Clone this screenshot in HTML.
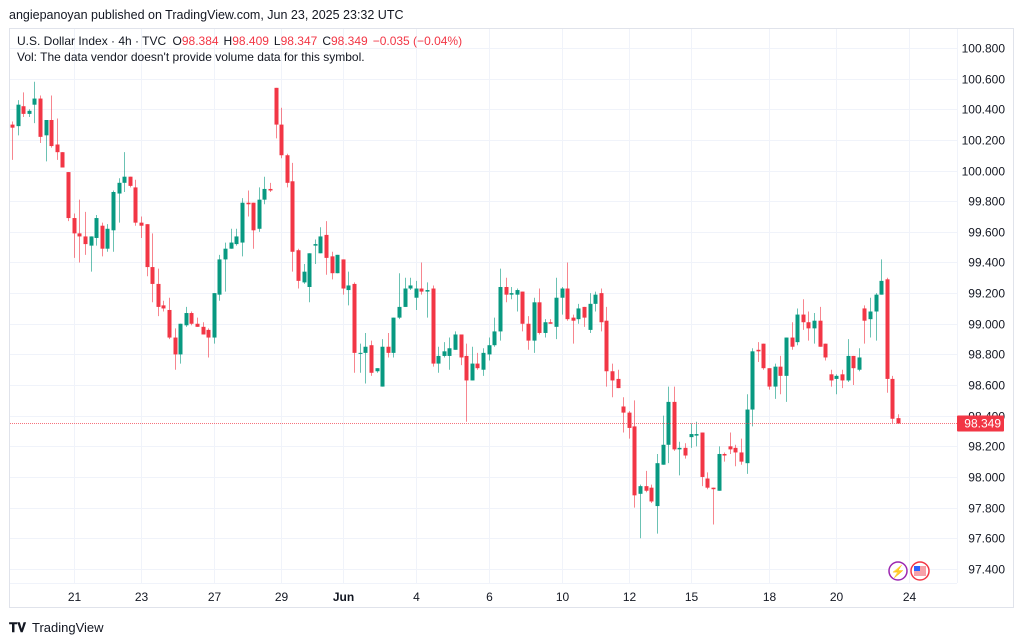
<!DOCTYPE html>
<html><head><meta charset="utf-8">
<style>
html,body{margin:0;padding:0;background:#fff;width:1024px;height:642px;overflow:hidden;font-family:"Liberation Sans",sans-serif;}
svg text{font-family:"Liberation Sans",sans-serif;}
</style></head>
<body>
<svg id="chart" width="1024" height="642" viewBox="0 0 1024 642" xmlns="http://www.w3.org/2000/svg">
<rect x="0" y="0" width="1024" height="642" fill="#ffffff"/>
<text x="9" y="19" font-size="12.5" fill="#131722">angiepanoyan published on TradingView.com, Jun 23, 2025 23:32 UTC</text>
<rect x="9.5" y="28.5" width="1004" height="579" fill="none" stroke="#e0e3eb"/>
<g id="grid"></g>
<g id="candles"></g>
<g id="yaxis"></g>
<g id="xaxis"></g>
<g>
<text x="17" y="45" font-size="12" fill="#131722">U.S. Dollar Index · 4h · TVC <tspan dx="3">O</tspan><tspan fill="#f23645">98.384</tspan><tspan dx="5">H</tspan><tspan fill="#f23645">98.409</tspan><tspan dx="5">L</tspan><tspan fill="#f23645">98.347</tspan><tspan dx="5">C</tspan><tspan fill="#f23645">98.349</tspan><tspan dx="5" fill="#f23645">−0.035 (−0.04%)</tspan></text>
<text x="17" y="61" font-size="12" fill="#131722">Vol: The data vendor doesn't provide volume data for this symbol.</text>
</g>
<g>
<circle cx="898" cy="571" r="9" fill="#fff" stroke="#9c27b0" stroke-width="1.5"/>
<text x="898" y="575.5" font-size="12" text-anchor="middle" fill="#9c27b0">⚡</text>
<circle cx="920" cy="571" r="9" fill="#fff" stroke="#f23645" stroke-width="1.5"/>
<rect x="914" y="566" width="12" height="10" fill="#f7a0a8"/>
<rect x="914" y="566" width="6" height="5" fill="#2962ff"/>
</g>
<g>
<text x="9" y="632" font-size="13" font-weight="bold" fill="#131722">𝐓𝐕</text>
<text x="32" y="632" font-size="13" fill="#131722">TradingView</text>
</g>
</svg>
<script>
const opens=[100.30,100.29,100.42,100.37,100.43,100.47,100.23,100.33,100.17,100.12,99.99,99.69,99.59,99.57,99.51,99.56,99.64,99.49,99.61,99.85,99.92,99.96,99.89,99.66,99.65,99.37,99.26,99.12,99.09,98.91,98.80,98.99,99.07,99.00,98.98,98.96,98.91,99.19,99.42,99.49,99.52,99.53,99.79,99.79,99.62,99.81,99.88,100.54,100.30,100.10,99.93,99.48,99.27,99.24,99.51,99.46,99.58,99.44,99.33,99.42,99.22,99.26,98.81,98.81,98.86,98.69,98.59,98.85,98.81,99.04,99.11,99.23,99.17,99.23,99.21,99.23,98.74,98.79,98.79,98.83,98.93,98.79,98.63,98.74,98.70,98.80,98.86,98.95,99.24,99.19,99.19,99.21,99.00,98.89,99.14,98.94,99.01,98.98,99.17,99.23,99.04,99.03,99.11,98.96,99.13,99.20,99.02,98.69,98.64,98.46,98.42,98.33,97.89,97.94,97.93,97.81,98.08,98.21,98.49,98.18,98.19,98.26,98.27,98.29,97.99,97.93,97.91,98.15,98.20,98.19,98.16,98.09,98.44,98.83,98.87,98.71,98.59,98.72,98.66,98.91,98.88,99.06,99.01,98.97,99.02,98.87,98.67,98.64,98.67,98.63,98.79,98.70,99.10,99.03,99.08,99.19,99.29,98.64,98.384];
const highs=[100.32,100.46,100.51,100.40,100.58,100.49,100.33,100.49,100.34,100.12,99.99,99.72,99.81,99.73,99.57,99.71,99.66,99.65,99.87,99.95,100.12,99.96,99.94,99.70,99.65,99.59,99.36,99.15,99.17,98.97,99.00,99.11,99.08,99.04,99.01,98.97,99.20,99.45,99.53,99.62,99.62,99.82,99.87,99.79,99.89,99.96,99.92,100.54,100.41,100.11,100.05,99.49,99.39,99.46,99.55,99.63,99.67,99.47,99.45,99.42,99.34,99.27,98.87,98.94,98.89,98.71,98.90,98.94,99.04,99.33,99.30,99.30,99.28,99.40,99.27,99.25,98.85,98.88,98.91,98.95,98.93,98.87,98.85,98.81,98.84,98.91,99.04,99.36,99.30,99.24,99.23,99.21,99.05,99.17,99.23,99.03,99.03,99.30,99.24,99.40,99.06,99.13,99.11,99.20,99.21,99.23,99.11,98.74,98.70,98.52,98.43,98.50,97.95,98.04,97.95,98.15,98.40,98.59,98.59,98.23,98.22,98.35,98.36,98.29,98.03,97.93,98.20,98.16,98.29,98.21,98.25,98.54,98.84,98.88,98.87,98.71,98.74,98.79,98.91,99.01,99.10,99.16,99.08,99.07,99.11,98.87,98.70,98.67,98.70,98.90,98.79,98.84,99.12,99.17,99.20,99.42,99.30,98.66,98.409];
const lows=[100.07,100.23,100.35,100.35,100.31,100.18,100.06,100.15,100.07,100.02,99.67,99.43,99.40,99.45,99.34,99.51,99.44,99.47,99.47,99.66,99.86,99.89,99.64,99.56,99.31,99.14,99.05,99.08,98.90,98.70,98.74,98.98,98.99,98.98,98.93,98.78,98.87,99.15,99.21,99.49,99.51,99.44,99.70,99.49,99.60,99.78,99.86,100.21,100.08,99.89,99.34,99.23,99.26,99.14,99.39,99.46,99.32,99.29,99.33,99.19,99.12,98.68,98.68,98.61,98.66,98.68,98.59,98.78,98.78,99.03,99.11,99.22,99.09,99.19,99.04,98.72,98.68,98.78,98.70,98.83,98.73,98.36,98.63,98.70,98.66,98.76,98.85,98.89,99.14,99.16,99.08,98.95,98.83,98.81,98.93,98.91,99.00,98.90,99.06,99.02,98.87,99.00,98.98,98.94,99.08,98.95,98.59,98.52,98.58,98.29,98.25,97.80,97.60,97.90,97.83,97.63,98.08,98.09,98.17,98.01,98.12,98.19,98.20,97.94,97.92,97.69,97.91,98.10,98.15,98.07,98.08,98.02,98.33,98.75,98.70,98.57,98.51,98.54,98.49,98.83,98.86,98.96,98.89,98.87,98.85,98.76,98.59,98.54,98.58,98.62,98.60,98.69,98.87,98.91,98.89,99.19,98.55,98.35,98.347];
const closes=[100.28,100.43,100.37,100.39,100.47,100.22,100.33,100.16,100.12,100.02,99.69,99.59,99.57,99.52,99.57,99.69,99.49,99.62,99.86,99.92,99.96,99.90,99.66,99.64,99.37,99.26,99.11,99.10,98.91,98.80,99.00,99.07,99.00,98.98,98.93,98.91,99.20,99.42,99.49,99.53,99.57,99.79,99.78,99.61,99.81,99.88,99.87,100.30,100.10,99.92,99.47,99.28,99.34,99.46,99.52,99.57,99.43,99.33,99.45,99.23,99.25,98.81,98.81,98.85,98.68,98.71,98.85,98.81,99.04,99.11,99.23,99.25,99.23,99.21,99.22,98.74,98.79,98.82,98.84,98.93,98.78,98.63,98.74,98.71,98.81,98.86,98.95,99.24,99.19,99.20,99.22,99.00,98.89,99.14,98.94,99.01,99.00,99.17,99.23,99.03,99.02,99.10,99.04,99.13,99.19,99.01,98.69,98.63,98.58,98.42,98.32,97.88,97.94,97.91,97.84,98.09,98.21,98.49,98.18,98.19,98.14,98.28,98.28,98.00,97.93,97.92,98.15,98.14,98.18,98.16,98.10,98.44,98.82,98.82,98.71,98.59,98.72,98.66,98.91,98.85,99.06,99.01,98.97,99.02,98.85,98.78,98.63,98.66,98.63,98.79,98.71,98.78,99.02,99.08,99.19,99.28,98.64,98.38,98.349];
const priceTicks=[100.8,100.6,100.4,100.2,100.0,99.8,99.6,99.4,99.2,99.0,98.8,98.6,98.4,98.2,98.0,97.8,97.6,97.4];
const dateLabels=["21","23","27","29","Jun","4","6","10","12","15","18","20","24"];
const dateIndex=[11,23,36,48,59,72,85,98,110,121,135,147,160];
const lastPrice=98.349;

const NS="http://www.w3.org/2000/svg";
function yScale(p){return 48+(100.8-p)*153.2;}
function xScale(i){return 12+i*5.608;}
function mk(tag,attrs,parent){const e=document.createElementNS(NS,tag);for(const k in attrs)e.setAttribute(k,attrs[k]);parent.appendChild(e);return e;}
const grid=document.getElementById('grid');
const cg=document.getElementById('candles');
const ya=document.getElementById('yaxis');
const xa=document.getElementById('xaxis');
const PL=10,PR=957,PT=29,PB=583;

priceTicks.forEach(function(p){
  const y=Math.round(yScale(p))+0.5;
  const l=mk('line',{x1:PL,x2:PR,y1:y,y2:y,stroke:'#f0f3fa','stroke-width':1},grid);
  
  
  const t=mk('text',{x:1005,y:y+4,'font-size':12,fill:'#131722','text-anchor':'end'},ya);
  t.textContent=p.toFixed(3);
  
  
});
dateLabels.forEach(function(s,k){
  const x=Math.round(xScale(dateIndex[k]))+0.5;
  const l=mk('line',{x1:x,x2:x,y1:PT,y2:PB,stroke:'#f0f3fa','stroke-width':1},grid);
  
  
  const t=mk('text',{x:x,y:601,'font-size':12,fill:'#131722','text-anchor':'middle','font-weight':s==='Jun'?'bold':'normal'},xa);
  t.textContent=s;
  
  
});
mk('line',{x1:957.5,x2:957.5,y1:PT,y2:PB,stroke:'#f0f3fa'},grid);
mk('line',{x1:PL,x2:PR,y1:583.5,y2:583.5,stroke:'#f0f3fa'},grid);

for(let i=0;i<opens.length;i++){
  const o=opens[i],h=highs[i],l=lows[i],c=closes[i];
  const up=c>=o;
  const col=up?'#089981':'#f23645';
  const x=xScale(i);
  const g=mk('g',{},cg);
  
  
  mk('line',{x1:Math.round(x)+0.5,x2:Math.round(x)+0.5,y1:yScale(h),y2:yScale(l),stroke:col,'stroke-width':1,'stroke-opacity':0.6},g);
  const top=yScale(Math.max(o,c)),bot=yScale(Math.min(o,c));
  mk('rect',{x:Math.round(x)-1.5,y:top,width:4,height:Math.max(1,bot-top),fill:col},g);
}
const ly=Math.round(yScale(lastPrice))+0.5;
const pl=mk('line',{x1:PL,x2:PR,y1:ly,y2:ly,stroke:'#f23645','stroke-opacity':0.7,'stroke-width':1,'stroke-dasharray':'1,1'},cg);


const lb=mk('rect',{x:957,y:ly-8,width:47,height:16,fill:'#f23645',rx:1},ya);


const lt=mk('text',{x:1001,y:ly+4,'font-size':12,fill:'#ffffff','text-anchor':'end'},ya);
lt.textContent=lastPrice.toFixed(3);


</script>
</body></html>
